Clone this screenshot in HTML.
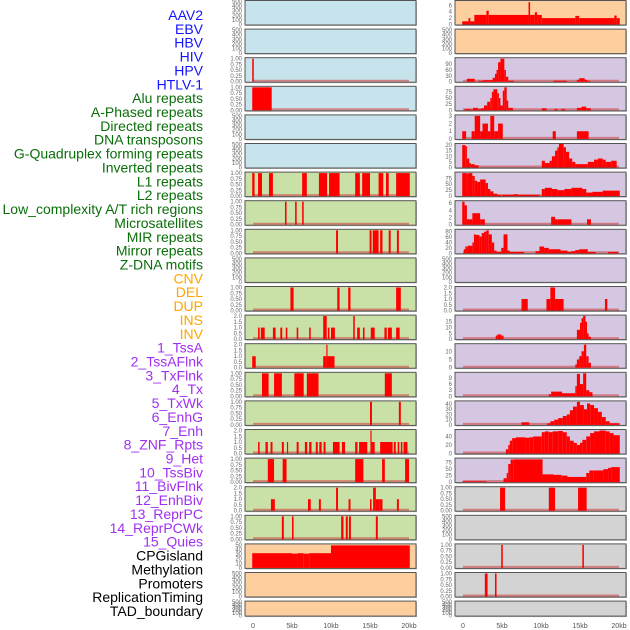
<!DOCTYPE html>
<html><head><meta charset="utf-8"><style>
html,body{margin:0;padding:0;background:#fff}
svg{display:block}
text{font-family:"Liberation Sans",Arial,sans-serif}
</style></head><body>
<svg id="c" width="630" height="630" xmlns="http://www.w3.org/2000/svg"></svg>
<script>
const labels=["AAV2","EBV","HBV","HIV","HPV","HTLV-1","Alu repeats","A-Phased repeats","Directed repeats","DNA transposons","G-Quadruplex forming repeats","Inverted repeats","L1 repeats","L2 repeats","Low_complexity A/T rich regions","Microsatellites","MIR repeats","Mirror repeats","Z-DNA motifs","CNV","DEL","DUP","INS","INV","1_TssA","2_TssAFlnk","3_TxFlnk","4_Tx","5_TxWk","6_EnhG","7_Enh","8_ZNF_Rpts","9_Het","10_TssBiv","11_BivFlnk","12_EnhBiv","13_ReprPC","14_ReprPCWk","15_Quies","CPGisland","Methylation","Promoters","ReplicationTiming","TAD_boundary"];
const labelColors=[0,0,0,0,0,0,1,1,1,1,1,1,1,1,1,1,1,1,1,2,2,2,2,2,3,3,3,3,3,3,3,3,3,3,3,3,3,3,3,4,4,4,4,4];
const palette=["#1414ff","#0a6e0a","#ffa500","#a030f0","#000000"];
const xTicks=[0,5,10,15,20];
const xTickLabels=["0","5kb","10kb","15kb","20kb"];
const leftBg=["b","b","b","b","b","b","g","g","g","g","g","g","g","g","g","g","g","g","g","o","o","o"];
const rightBg=["o","o","p","p","p","p","p","p","p","p","p","p","p","p","p","p","p","g2","g2","g2","g2","g2"];
const T1=["0.00","0.25","0.50","0.75","1.00"], T2=["0.0","0.5","1.0","1.5","2.0"], TE=["0","100","200","300","400","500"];
const leftYmax=[500,500,1,1,500,500,1,1,1,500,1,2,2,1,1,2,1,2,1,50,500,500];
const leftTicks=[TE,TE,T1,T1,TE,TE,T1,T1,T1,TE,T1,T2,T2,T1,T1,T2,T1,T2,T1,["0","10","20","30","40","50"],TE,TE];
const rightYmax=[7.2,500,118,94,3,20.5,97,6.4,85,500,2,19.8,14,11.3,44,54,89,1,500,1,1,500];
const rightTicks=[["0","2","4","6"],TE,["0","30","60","90"],["0","25","50","75"],["0","1","2","3"],["0","5","10","15","20"],["0","25","50","75"],["0","2","4","6"],["0","20","40","60","80"],TE,T2,["0","5","10","15"],["0","5","10"],["0","3","6","9"],["0","10","20","30","40"],["0","20","40"],["0","25","50","75"],T1,TE,T1,T1,TE];
const leftSegments=[
[],[],
[[-0.1,0.1,1]],
[[-0.1,2.4,1]],
[],[],
[[-0.1,0.2,1],[0.65,1.15,1],[2.05,2.55,1],[6.3,6.9,1],[8.45,9.5,1],[9.75,11.1,1],[13.1,13.7,1],[14.0,15.0,1],[16.1,16.7,1],[17.05,17.4,1],[18.35,20.1,1]],
[[4.1,4.3,1],[5.4,5.6,1],[6.3,6.5,1]],
[[10.65,10.9,1],[14.95,15.2,1],[15.35,16.1,1],[16.3,16.6,1],[17.4,17.65,1],[18.45,18.7,1]],
[],
[[4.8,5.2,1],[10.8,11.1,1],[12.2,12.5,1],[18.35,18.95,1]],
[[0.65,0.85,1],[1.0,1.5,1],[2.55,2.9,1],[3.5,3.75,1],[4.2,4.4,1],[5.6,5.8,1],[7.2,7.4,1],[9.0,9.45,2],[9.6,9.8,1],[10.0,10.5,1],[12.85,13.05,2],[13.35,13.7,1],[14.1,14.3,1],[15.1,15.6,1],[16.85,17.15,1],[17.3,17.8,1],[18.35,18.8,1]],
[[-0.1,0.35,1],[9.0,9.4,1],[9.4,9.55,2],[9.55,10.45,1]],
[[1.15,2.0,1],[2.7,3.7,1],[5.3,6.5,1],[6.9,8.4,1],[16.9,17.8,1]],
[[15.0,15.25,1],[18.7,18.95,1]],
[[0.65,0.85,1],[1.6,1.9,1],[2.25,2.5,1],[3.7,3.95,1],[4.35,4.5,1],[5.6,5.85,1],[6.65,6.95,1],[7.2,7.5,1],[8.05,8.3,1],[8.5,8.8,1],[9.05,9.3,1],[10.25,11.1,1],[11.4,11.8,1],[13.1,13.4,1],[13.6,14.65,1],[15.05,15.2,2],[15.2,15.6,1],[16.3,17.9,1],[18.05,18.3,1],[18.55,18.75,1],[18.95,19.15,1],[19.3,19.8,1]],
[[1.9,2.7,1],[3.8,4.3,1],[13.1,14.15,1],[16.55,16.9,1],[19.5,20.0,1]],
[[2.3,2.8,1],[7.05,7.4,1],[8.45,8.7,1],[10.65,10.9,2],[12.25,12.5,1],[15.0,15.2,1],[15.4,15.75,2],[15.75,16.25,1],[16.25,16.6,1],[18.45,18.7,1]],
[[3.7,3.95,1],[5.0,5.2,1],[11.3,11.6,1],[11.9,12.15,1],[12.3,12.55,1],[15.75,16.0,1]],
[[-0.1,5.0,32],[5.0,5.7,31],[5.7,6.5,32],[6.5,7.2,31],[7.2,10.0,32],[10.0,20.1,49]],
[],[]
];
const rightSegments=[
[[-0.1,0.7,1],[0.7,0.94,2],[0.94,1.45,1],[1.45,3.0,3],[3.0,3.3,4.3],[3.3,8.4,3],[8.4,8.6,7],[8.6,9.2,3],[9.2,9.5,3.8],[9.5,10.1,3],[10.1,14.4,2],[14.4,14.9,2.7],[14.9,19.4,2],[19.4,19.7,2.8],[19.7,20.1,2]],
[],
[[0.5,1.5,15],[2,2.6,5],[2.6,3.8,8],[3.8,4.1,20],[4.1,4.3,40],[4.3,4.5,60],[4.5,4.8,100],[4.8,5.3,118],[5.3,5.5,60],[5.5,5.8,25],[5.8,6.5,5],[11.6,13.3,5],[14.6,14.9,10],[14.9,15.6,18],[15.6,15.9,10],[15.9,16.3,5]],
[[0.2,0.9,5],[0.9,1.3,3],[1.3,1.9,10],[1.9,2.3,5],[2.3,2.7,8],[2.7,3.1,20],[3.1,3.5,35],[3.5,3.7,50],[3.7,3.9,75],[3.9,4.4,86],[4.4,4.6,70],[4.6,4.8,50],[4.8,5.1,20],[5.1,5.3,80],[5.3,5.6,94],[5.6,5.8,40],[5.8,6.4,10],[10.1,10.7,8],[11.7,12.1,5],[12.6,13.1,5],[14.6,15.2,10],[15.2,15.8,15],[15.8,16.4,8]],
[[-0.1,0.4,1],[1.1,1.5,1],[1.5,2.2,3],[2.2,2.5,1],[2.5,3.2,2],[3.2,3.5,1],[3.5,4.0,3],[4.0,4.5,1],[4.5,5.1,2],[11.5,11.9,1],[14.6,16.1,1]],
[[-0.1,0.3,20],[0.3,0.5,19],[0.5,0.8,8],[0.8,1.0,4],[1.0,1.5,3],[1.5,2.0,2],[10.1,10.5,6],[10.5,11.1,4],[11.1,11.4,6],[11.4,11.8,10],[11.8,12.1,15],[12.1,12.3,18],[12.3,12.9,21],[12.9,13.2,18],[13.2,13.6,14],[13.6,14.0,8],[14.0,14.4,5],[14.4,16.0,3],[16.0,16.8,5],[16.8,17.3,7],[17.3,17.9,8],[17.9,18.3,7],[18.3,19.0,5],[19.0,19.7,6]],
[[-0.1,0.5,97],[0.5,0.7,95],[0.7,1.2,97],[1.2,1.5,85],[1.5,1.8,65],[1.8,2.2,60],[2.2,2.9,70],[2.9,3.2,55],[3.2,3.5,30],[3.5,3.9,20],[3.9,4.4,10],[4.4,4.9,5],[5.0,6.5,5],[6.5,7.0,8],[7.0,9.8,5],[10.1,10.5,30],[10.5,11.4,35],[11.4,12.1,30],[12.1,13.0,25],[13.0,13.9,30],[13.9,15.3,35],[15.3,15.8,30],[15.8,16.6,15],[16.6,17.9,18],[17.9,20.1,23]],
[[-0.1,0.2,6.4],[0.2,0.5,5.4],[0.5,1.2,1.5],[1.2,2.2,3.2],[2.2,2.8,1.5],[11.3,11.8,2.2],[11.8,12.1,1.5],[12.1,13.9,1.5],[15.9,16.4,1.5]],
[[0.1,0.3,15],[0.3,0.6,25],[0.6,1.2,28],[1.2,1.4,40],[1.4,1.6,70],[1.6,2.1,68],[2.1,2.4,62],[2.4,2.7,75],[2.7,3.0,80],[3.0,3.3,85],[3.3,3.7,70],[3.7,4.0,40],[4.0,4.3,10],[4.3,4.9,5],[4.9,5.2,20],[5.2,5.7,70],[5.7,6.0,10],[6.0,7.8,5],[9.3,9.8,8],[9.8,10.4,25],[10.4,11.0,20],[11.0,12.5,15],[12.5,13.4,10],[13.4,13.9,5],[13.9,14.4,8],[14.4,14.9,12],[14.9,16.0,15],[16.0,17.0,5],[18.6,19.9,5]],
[],
[[7.5,8.3,1],[10.7,11.2,1],[11.2,11.8,2],[11.8,12.9,1],[18.2,18.5,1]],
[[4.2,4.4,3],[4.4,4.9,4],[4.9,5.2,3],[14.6,15.0,8],[15.0,15.2,14],[15.2,15.4,18],[15.4,15.7,20],[15.7,15.9,15],[15.9,16.1,5],[16.1,16.4,2]],
[[14.4,14.6,2],[14.6,14.9,5],[14.9,15.2,7],[15.2,15.5,10],[15.5,15.8,14],[15.8,16.1,7],[16.1,16.4,3]],
[[11.0,11.3,1],[11.3,12.7,2.3],[12.7,14.4,1.5],[14.4,14.6,5],[14.6,15.0,11],[15.0,15.4,6],[15.4,15.8,11.3],[15.8,16.2,3],[16.2,16.6,2]],
[[7.5,8.5,5],[10.8,11.2,3],[11.2,11.7,7],[11.7,12.2,10],[12.2,12.8,13],[12.8,13.3,17],[13.3,13.7,20],[13.7,14.1,28],[14.1,14.6,35],[14.6,15.0,44],[15.0,15.5,38],[15.5,15.9,30],[15.9,16.3,41],[16.3,16.8,38],[16.8,17.3,32],[17.3,17.8,25],[17.8,18.3,15],[18.3,18.8,7],[18.8,20.1,3]],
[[5.5,5.8,10],[5.8,6.0,20],[6.0,6.3,30],[6.3,6.8,36],[6.8,8.0,38],[8.0,8.5,37],[8.5,9.0,38],[9.0,10.1,40],[10.1,10.5,50],[10.5,11.0,52],[11.0,11.5,50],[11.5,12.2,52],[12.2,12.8,53],[12.8,13.3,50],[13.3,13.7,40],[13.7,14.2,30],[14.2,14.6,25],[14.6,15.0,20],[15.0,15.3,25],[15.3,15.8,32],[15.8,16.3,40],[16.3,16.8,48],[16.8,17.5,52],[17.5,18.3,54],[18.3,18.8,52],[18.8,19.3,48],[19.3,20.1,43]],
[[-0.1,3.0,3],[5.2,5.6,15],[5.6,5.8,35],[5.8,6.1,70],[6.1,6.5,87],[6.5,10.2,88],[10.2,11.6,30],[11.6,12.6,28],[12.6,13.4,25],[13.4,15.8,20],[15.8,16.2,35],[16.2,16.7,45],[16.7,18.0,45],[18.0,18.6,50],[18.6,19.0,55],[19.0,20.1,58]],
[[4.75,5.4,1],[11.0,11.8,1],[14.75,15.85,1]],
[],
[[4.9,5.1,1],[15.3,15.5,1]],
[[2.8,3.15,1],[4.1,4.3,1]],
[]
];
const bgColor={b:"#c7e4ec",o:"#fecf9e",g:"#c9e1a6",p:"#d5c6e2",g2:"#d3d3d3"};
const NS="http://www.w3.org/2000/svg";
const svg=document.getElementById("c");
function mk(tag,attrs,parent){const e=document.createElementNS(NS,tag);for(const k in attrs)e.setAttribute(k,attrs[k]);(parent||svg).appendChild(e);return e;}
function rowTop(i){return 0.5+28.6*i;}
function rowH(i){return i===21?15:24.5;}
function xScale(col,kb){return (col===0?253:463)+kb*7.8;}

labels.forEach((t,i)=>{
  const e=mk("text",{x:203,y:15+i*13.86+5,"text-anchor":"end","font-size":"14",fill:palette[labelColors[i]]});
  e.textContent=t;
  
  
});

function drawPanel(col,i,segs,ymax,ticks,bg){
  const x0=col===0?245:455, w=171, top=rowTop(i), h=rowH(i);
  const g=mk("g",{});
  
  
  mk("rect",{x:x0+1,y:top+1,width:w,height:h,fill:"#bbb"},g);
  mk("rect",{x:x0,y:top,width:w,height:h,fill:bgColor[bg],stroke:"#555","stroke-width":1},g);
  const yb=top+h-0.5, yt=top+1;
  const yS=v=>yb-(v/ymax)*(yb-yt);
  const tx=col===0?242:452;
  ticks.forEach((lab,k)=>{
    const v=parseFloat(lab);
    const t=mk("text",{x:tx,y:yS(v)+2,"text-anchor":"end","font-size":"6",fill:"#666"},g);
    t.textContent=lab;
    
    
  });
  if(segs.length){
    mk("line",{x1:xScale(col,0),x2:xScale(col,20),y1:yb-1,y2:yb-1,stroke:"rgba(210,70,70,0.6)","stroke-width":2},g);
  }
  segs.forEach(s=>{
    const xa=Math.max(x0+0.5,xScale(col,s[0])), xb=Math.min(x0+w-0.5,xScale(col,s[1]));
    const r=mk("rect",{x:xa,y:yS(s[2]),width:Math.max(1.2,xb-xa),height:yb-yS(s[2]),fill:"#ff0000"},g);
    
    
  });
}
for(let i=0;i<22;i++){
  drawPanel(0,i,leftSegments[i],leftYmax[i],leftTicks[i],leftBg[i]);
  drawPanel(1,i,rightSegments[i],rightYmax[i],rightTicks[i],rightBg[i]);
}
[0,1].forEach(col=>{
  xTicks.forEach((v,k)=>{
    const t=mk("text",{x:xScale(col,v),y:628,"text-anchor":"middle","font-size":"7",fill:"#555"});
    t.textContent=xTickLabels[k];
    
    
  });
});
</script>
</body></html>
